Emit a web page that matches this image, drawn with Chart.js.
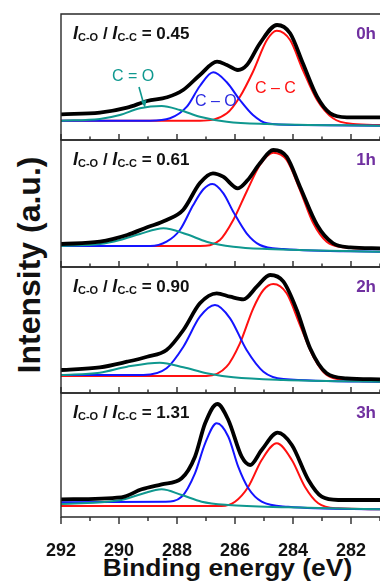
<!DOCTYPE html>
<html>
<head>
<meta charset="utf-8">
<script src="https://cdn.jsdelivr.net/npm/chart.js@4.4.1/dist/chart.umd.min.js"></script>
<style>
  body { margin: 0; background: #fff; }
  #wrap { position: relative; width: 380px; height: 584px; overflow: hidden; font-family: "Liberation Sans", Arial, sans-serif; }
  #wrap canvas { position: absolute; left: 0; }
  .ratio { position: absolute; left: 73px; font-size: 17px; line-height: 17px; font-weight: bold; color: #111; white-space: nowrap; }
  .ratio i { font-size: 18px; }
  .ratio span { font-size: 11px; position: relative; top: 2px; }
  .time { position: absolute; right: 4px; font-size: 17px; line-height: 17px; font-weight: bold; color: #7030a0; }
  .peak { position: absolute; font-size: 16px; line-height: 16px; white-space: nowrap; }
  #ytitle { position: absolute; left: -101px; top: 249px; width: 260px; text-align: center; font-size: 32px; line-height: 32px; font-weight: bold; color: #111; transform: rotate(-90deg); white-space: nowrap; }
  #xtitle { position: absolute; left: 0; top: 556px; width: 455px; text-align: center; font-size: 24px; line-height: 24px; font-weight: bold; color: #111; transform: scaleX(1.1); white-space: nowrap; }
</style>
</head>
<body>
<div id="wrap">
  <div id="ytitle">Intensity (a.u.)</div>
  <div id="xtitle">Binding energy (eV)</div>
</div>
<script>
// x axis (binding energy, eV, reversed)
const energyMin = 281;
const energyMax = 292;
const xTickLabels = [292, 290, 288, 286, 284, 282];

const timeLabels = ['0h', '1h', '2h', '3h'];
const ratioValues = ['0.45', '0.61', '0.90', '1.31'];
const intensityMax = [126, 127, 126, 124];

// [binding energy, intensity]
const total0h = [[292, 25.7], [290.66, 27.3], [289.72, 32.3], [289.03, 39], [288.34, 42.7], [287.79, 50], [287.21, 65], [286.62, 78.3], [286.28, 75], [285.9, 70], [285.59, 75], [285.14, 96.7], [284.55, 115], [284.1, 106.7], [283.66, 76.7], [283.17, 43.3], [282.72, 26.7], [282.14, 22.7], [281, 22.7]];
const cc0h = [[292, 19.3], [287.21, 19.3], [286.28, 26.7], [285.83, 43.3], [285.38, 68.3], [284.9, 100], [284.56, 109.3], [284.1, 100], [283.66, 70], [283.17, 40], [282.62, 21.7], [281.93, 16], [281, 15]];
const co0h = [[292, 19.3], [288.93, 19.3], [288.24, 21.7], [287.66, 33.3], [287.21, 54], [286.75, 67.7], [286.29, 58], [285.83, 40], [285.38, 25], [284.9, 16.7], [283.76, 15], [281, 14.3]];
const cdo0h = [[292, 19.3], [290.66, 21], [289.97, 25], [289.28, 31.7], [288.53, 34], [287.9, 30], [287.21, 23.3], [286.28, 18.3], [284.9, 16], [281, 14.3]];

const total1h = [[292, 23], [290.66, 25.3], [289.72, 32], [289.03, 39.7], [288.36, 47], [287.79, 57], [287.21, 84], [286.76, 93.7], [286.41, 90.3], [285.9, 78.7], [285.56, 87], [285.14, 103.7], [284.68, 117], [284.22, 110.3], [283.76, 80.3], [283.17, 42], [282.62, 23.7], [282.03, 19.7], [281, 18.7]];
const cc1h = [[292, 21], [287.21, 21], [286.52, 27], [286.06, 47], [285.6, 75.3], [285.14, 102], [284.68, 114.3], [284.22, 107], [283.76, 77], [283.3, 43.7], [282.84, 25.3], [282.27, 19.7], [281, 18]];
const co1h = [[292, 21], [288.93, 21], [288.36, 25.3], [287.9, 37], [287.44, 62], [287.09, 77.7], [286.78, 83], [286.4, 73.7], [286.06, 55.3], [285.6, 33.7], [285.14, 22], [284.33, 18], [281, 15.3]];
const cdo1h = [[292, 21], [290.66, 23], [289.97, 27], [289.28, 33], [288.47, 38.7], [287.67, 32.7], [286.98, 25.3], [286.06, 20.3], [284.9, 18], [281, 15.3]];

const total2h = [[292, 23], [290.66, 25.7], [289.72, 31.3], [289.03, 36.3], [288.36, 43], [287.78, 63], [287.21, 89.7], [286.63, 99.7], [286.17, 96.3], [285.71, 93.7], [285.25, 106.3], [284.79, 118], [284.33, 111.3], [283.87, 83], [283.41, 44.7], [282.84, 19.7], [282.15, 14.7], [281, 13.7]];
const cc2h = [[292, 17], [286.98, 17], [286.29, 26.3], [285.83, 49.7], [285.37, 84.7], [285.02, 103], [284.68, 109], [284.22, 99.7], [283.76, 68], [283.3, 36.3], [282.84, 18], [282.15, 13], [281, 11.3]];
const co2h = [[292, 18], [289.16, 18], [288.36, 24.7], [287.78, 46.3], [287.21, 76.3], [286.69, 88], [286.17, 74.7], [285.6, 43], [285.02, 21.3], [284.33, 14], [281, 11.3]];
const cdo2h = [[292, 18], [290.66, 20.3], [289.72, 26.3], [288.59, 30.3], [287.78, 25.7], [286.98, 19.7], [286.06, 15.7], [284.33, 13], [281, 11.3]];

const total3h = [[292, 17.7], [289.92, 19.7], [289.22, 27.7], [288.53, 32.7], [287.84, 38.7], [287.38, 60.3], [287.03, 93.7], [286.61, 113], [286.23, 97], [285.77, 60.3], [285.48, 52], [285.08, 67], [284.53, 84.3], [284.04, 72], [283.47, 37], [283.01, 20.3], [282.44, 17], [281, 17]];
const cc3h = [[292, 11], [286.46, 11], [286, 15.3], [285.54, 30.3], [285.08, 57], [284.56, 73.7], [284.04, 57], [283.59, 30.3], [283.13, 13.7], [282.44, 8.7], [281, 7.7]];
const co3h = [[292, 14.7], [288.41, 15.3], [287.84, 20.3], [287.38, 43.7], [287.03, 73.7], [286.63, 93.7], [286.23, 80.3], [285.89, 50.3], [285.54, 28.7], [285.08, 15.3], [284.17, 10.3], [281, 7.7]];
const cdo3h = [[292, 13], [289.92, 17], [289.22, 23], [288.53, 27.7], [287.84, 22], [287.15, 15.3], [286.24, 12], [284.17, 9.7], [281, 7.7]];

const totals = [total0h, total1h, total2h, total3h];
const ccFits = [cc0h, cc1h, cc2h, cc3h];
const coFits = [co0h, co1h, co2h, co3h];
const cdoFits = [cdo0h, cdo1h, cdo2h, cdo3h];

// layout
const panelTop = [14, 140, 267, 393];
const panelBottom = [140, 267, 393, 517];
const teal = '#0f988f', red = '#ff1010', blue = '#1414ff';

const wrap = document.getElementById('wrap');
const toPts = arr => arr.map(p => ({ x: p[0], y: p[1] }));
const line = (arr, color, w) => ({
  data: toPts(arr),
  borderColor: color,
  borderWidth: w,
  pointRadius: 0,
  fill: false,
  cubicInterpolationMode: 'monotone'
});

// box + inward/outward tick marks
const framePlugin = {
  id: 'frame',
  afterDraw(chart, args, opts) {
    const { ctx, chartArea: a } = chart;
    const x = chart.scales.x;
    ctx.save();
    ctx.strokeStyle = '#2a2a2a';
    ctx.lineWidth = 1.4;
    ctx.beginPath();
    ctx.moveTo(a.right + 3, a.top);
    ctx.lineTo(a.left, a.top);
    ctx.lineTo(a.left, a.bottom);
    ctx.lineTo(a.right + 3, a.bottom);
    ctx.stroke();
    ctx.beginPath();
    for (let e = energyMin; e <= energyMax; e++) {
      const px = x.getPixelForValue(e);
      const major = e % 2 === 0;
      const len = opts.outward ? (major ? 7 : 4) : -(major ? 6 : 3.5);
      ctx.moveTo(px, a.bottom);
      ctx.lineTo(px, a.bottom + len);
    }
    ctx.stroke();
    ctx.restore();
  }
};

for (let i = 0; i < 4; i++) {
  const last = i === 3;
  const pad = 5, axisH = 44;
  const h = (panelBottom[i] - panelTop[i]) + pad + (last ? axisH : pad);
  const cv = document.createElement('canvas');
  cv.width = 380;
  cv.height = h;
  cv.style.width = '380px';
  cv.style.height = h + 'px';
  cv.style.top = (panelTop[i] - pad) + 'px';
  wrap.appendChild(cv);

  new Chart(cv, {
    type: 'line',
    data: {
      datasets: [
        line(totals[i], '#000', 3.8),
        line(cdoFits[i], teal, 2),
        line(coFits[i], blue, 2),
        line(ccFits[i], red, 2)
      ]
    },
    options: {
      responsive: false,
      animation: false,
      devicePixelRatio: 1,
      events: [],
      layout: { padding: { left: 61, right: 0, top: pad, bottom: last ? 0 : pad } },
      plugins: {
        legend: { display: false },
        tooltip: { enabled: false },
        frame: { outward: last }
      },
      scales: {
        x: {
          type: 'linear',
          min: energyMin,
          max: energyMax,
          reverse: true,
          display: last,
          afterFit: s => {
            s.paddingLeft = 0;
            s.paddingRight = 0;
            s.height = last ? axisH : 0;
          },
          grid: { display: false, drawTicks: false },
          border: { display: false },
          ticks: {
            stepSize: 1,
            autoSkip: false,
            maxRotation: 0,
            padding: 23,
            color: '#111',
            font: { family: 'Liberation Sans', size: 18, weight: 'bold' },
            callback: v => xTickLabels.includes(v) ? String(v) : ''
          }
        },
        y: { min: 0, max: intensityMax[i], display: false }
      }
    },
    plugins: [framePlugin]
  });

  const r = document.createElement('div');
  r.className = 'ratio';
  r.style.top = (panelTop[i] + 11) + 'px';
  r.innerHTML = '<i>I</i><span>C-O</span> / <i>I</i><span>C-C</span> = ' + ratioValues[i];
  wrap.appendChild(r);

  const t = document.createElement('div');
  t.className = 'time';
  t.style.top = (panelTop[i] + 11) + 'px';
  t.textContent = timeLabels[i];
  wrap.appendChild(t);
}

// peak labels on the first panel
const peakLabels = [
  { text: 'C = O', color: teal, left: 112, top: 68 },
  { text: 'C \u2013 O', color: '#2a2ae0', left: 195, top: 93 },
  { text: 'C \u2013 C', color: red, left: 255, top: 80 }
];
peakLabels.forEach(p => {
  const d = document.createElement('div');
  d.className = 'peak';
  d.style.left = p.left + 'px';
  d.style.top = p.top + 'px';
  d.style.color = p.color;
  d.textContent = p.text;
  wrap.appendChild(d);
});

const svgNS = 'http://www.w3.org/2000/svg';
const svg = document.createElementNS(svgNS, 'svg');
svg.setAttribute('width', '380');
svg.setAttribute('height', '584');
svg.style.position = 'absolute';
svg.style.left = '0';
svg.style.top = '0';
svg.innerHTML = '<line x1="139" y1="87" x2="144" y2="105" stroke="' + teal + '" stroke-width="1.6"/>' +
  '<polygon points="145,108 141,101 146.5,100" fill="' + teal + '"/>';
wrap.appendChild(svg);
</script>
</body>
</html>
